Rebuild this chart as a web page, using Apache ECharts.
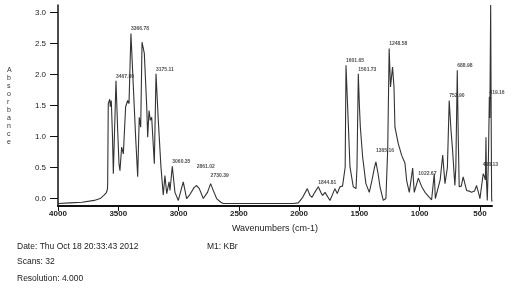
<!DOCTYPE html>
<html><head><meta charset="utf-8">
<script src="https://cdn.jsdelivr.net/npm/echarts@6/dist/echarts.min.js"></script>
<style>html,body{margin:0;padding:0;background:#fff}#c{width:514px;height:291px}</style>
</head><body><div id="c"></div>
<script>
// Spectrum: [wavenumber (cm-1), absorbance]
const spectrum = [
[4000,-0.08],[3900,-0.07],[3800,-0.06],[3700,-0.03],[3650,0.0],[3620,0.05],[3600,0.09],[3590,0.15],[3588,0.24],
[3583,1.53],[3571,1.6],[3566,1.48],[3558,1.58],[3548,1.0],[3541,0.4],[3533,0.37],[3519,1.9],[3505,1.1],[3494,0.56],
[3486,0.45],[3472,0.83],[3458,0.72],[3439,1.48],[3422,1.58],[3411,1.53],[3395,2.66],[3375,1.8],[3356,0.99],[3339,0.35],
[3326,1.31],[3314,1.15],[3303,2.52],[3284,2.34],[3264,1.48],[3256,0.99],[3245,1.42],[3234,1.26],[3223,1.31],[3201,0.56],
[3187,2.01],[3168,1.26],[3146,0.51],[3127,0.06],[3113,0.37],[3098,0.08],[3079,0.27],[3071,0.13],[3052,0.52],[3030,0.1],
[3002,-0.03],[2961,0.27],[2933,0.0],[2911,0.05],[2870,0.18],[2850,0.21],[2828,0.16],[2795,0.0],[2760,0.1],[2734,0.24],
[2710,0.12],[2684,0.0],[2650,-0.06],[2629,-0.08],[2300,-0.08],[2050,-0.08],[2007,-0.07],[1970,0.02],[1932,0.16],
[1910,0.05],[1893,0.02],[1870,0.1],[1841,0.19],[1820,0.1],[1805,0.05],[1785,0.1],[1771,0.1],[1744,-0.03],[1720,0.08],
[1703,0.16],[1684,0.08],[1661,0.19],[1640,0.2],[1626,0.19],[1618,0.5],[1611,2.15],[1600,1.6],[1592,1.21],[1578,0.51],
[1551,0.19],[1528,0.16],[1520,0.5],[1509,2.01],[1500,1.5],[1492,1.15],[1473,0.67],[1446,0.24],[1418,0.1],[1395,0.3],
[1375,0.5],[1363,0.59],[1345,0.4],[1329,0.19],[1302,-0.03],[1280,0.0],[1265,0.8],[1253,2.42],[1242,1.8],[1225,2.12],
[1213,1.8],[1205,1.15],[1178,0.89],[1150,0.7],[1122,0.57],[1108,0.29],[1095,0.3],[1086,0.1],[1058,0.49],[1045,0.1],
[1030,0.2],[1011,0.33],[985,0.2],[956,0.1],[901,-0.02],[885,0.0],[879,0.4],[870,0.0],[860,-0.02],[830,0.3],[809,0.7],
[790,0.24],[770,0.5],[755,1.58],[740,1.1],[727,0.78],[708,0.21],[700,0.5],[688,2.07],[680,1.0],[672,0.19],[655,0.2],
[639,0.35],[611,0.13],[590,0.12],[570,0.1],[545,0.12],[528,0.21],[510,0.08],[500,0.0],[473,0.4],[462,0.35],[455,0.3],
[450,0.99],[446,0.3],[439,-0.03],[430,0.6],[422,1.64],[418,1.3],[411,3.12],[406,1.0],[403,0.0],[400,-0.05]
];
// Peak labels
const peakText = ["3467.80","3366.78","3175.11","3060.35","2861.02","2730.39","1844.81","1601.65","1501.73","1365.16","1248.58","1022.67","752.90","688.98","460.13","419.16"];
const peakWn   = [3519,3395,3187,3052,2850,2734,1841,1611,1509,1363,1253,1011,755,688,476,422];
const peakAbs  = [1.9,2.66,2.01,0.52,0.45,0.3,0.19,2.15,2.01,0.7,2.42,0.33,1.58,2.07,0.47,1.64];
const xTicks = [4000,3500,3000,2500,2000,1500,1000,500];
const yTicks = [0.0,0.5,1.0,1.5,2.0,2.5,3.0];
const footerLines = ["Date: Thu Oct 18 20:33:43 2012","Scans: 32","Resolution: 4.000"];
const methodText = "M1: KBr";

const chart = echarts.init(document.getElementById('c'), null, {renderer:'canvas'});
const F = 'Liberation Sans, Arial, sans-serif';
chart.setOption({
  animation:false,
  backgroundColor:'#fff',
  grid:{left:58,right:22,top:5,bottom:85,containLabel:false},
  xAxis:{type:'value',inverse:true,min:400,max:4000,
    name:'Wavenumbers (cm-1)',nameLocation:'middle',nameGap:18,
    nameTextStyle:{fontFamily:F,fontSize:9,color:'#222'},
    axisLine:{show:true,onZero:false,lineStyle:{color:'#111',width:2}},
    axisTick:{show:true,length:5,customValues:xTicks,lineStyle:{color:'#111',width:1}},
    axisLabel:{customValues:xTicks,fontFamily:F,fontSize:8,color:'#222',margin:4,fontWeight:'bold',
      formatter:v=>String(v)},
    splitLine:{show:false}},
  yAxis:{type:'value',min:-0.12,max:3.12,
    axisLine:{show:true,onZero:false,lineStyle:{color:'#111',width:1.5}},
    axisTick:{show:true,length:8,customValues:yTicks,lineStyle:{color:'#111',width:1}},
    axisLabel:{customValues:yTicks,fontFamily:F,fontSize:8,color:'#222',margin:12,
      formatter:v=>v.toFixed(1)},
    splitLine:{show:false}},
  graphic:[
    {type:'text',left:7,top:66,style:{text:'A\nb\ns\no\nr\nb\na\nn\nc\ne',fontFamily:F,fontSize:7,lineHeight:8,fill:'#333',align:'center'}},
    {type:'text',left:17,top:242,style:{text:footerLines[0],fontFamily:F,fontSize:8.5,fill:'#222'}},
    {type:'text',left:17,top:257,style:{text:footerLines[1],fontFamily:F,fontSize:8.5,fill:'#222'}},
    {type:'text',left:17,top:274,style:{text:footerLines[2],fontFamily:F,fontSize:8.5,fill:'#222'}},
    {type:'text',left:207,top:242,style:{text:methodText,fontFamily:F,fontSize:8.5,fill:'#222'}}
  ],
  series:[
    {type:'line',data:spectrum,showSymbol:false,symbol:'none',lineStyle:{color:'#333',width:1.1},clip:true,z:2},
    {type:'scatter',symbolSize:0,z:3,
      data:peakText.map((t,i)=>({name:t,value:[peakWn[i],peakAbs[i]]})),
      label:{show:true,position:'top',align:'left',distance:2,formatter:p=>p.name,
        fontFamily:F,fontSize:5,fontWeight:'bold',color:'#222'}}
  ]
});
</script></body></html>
